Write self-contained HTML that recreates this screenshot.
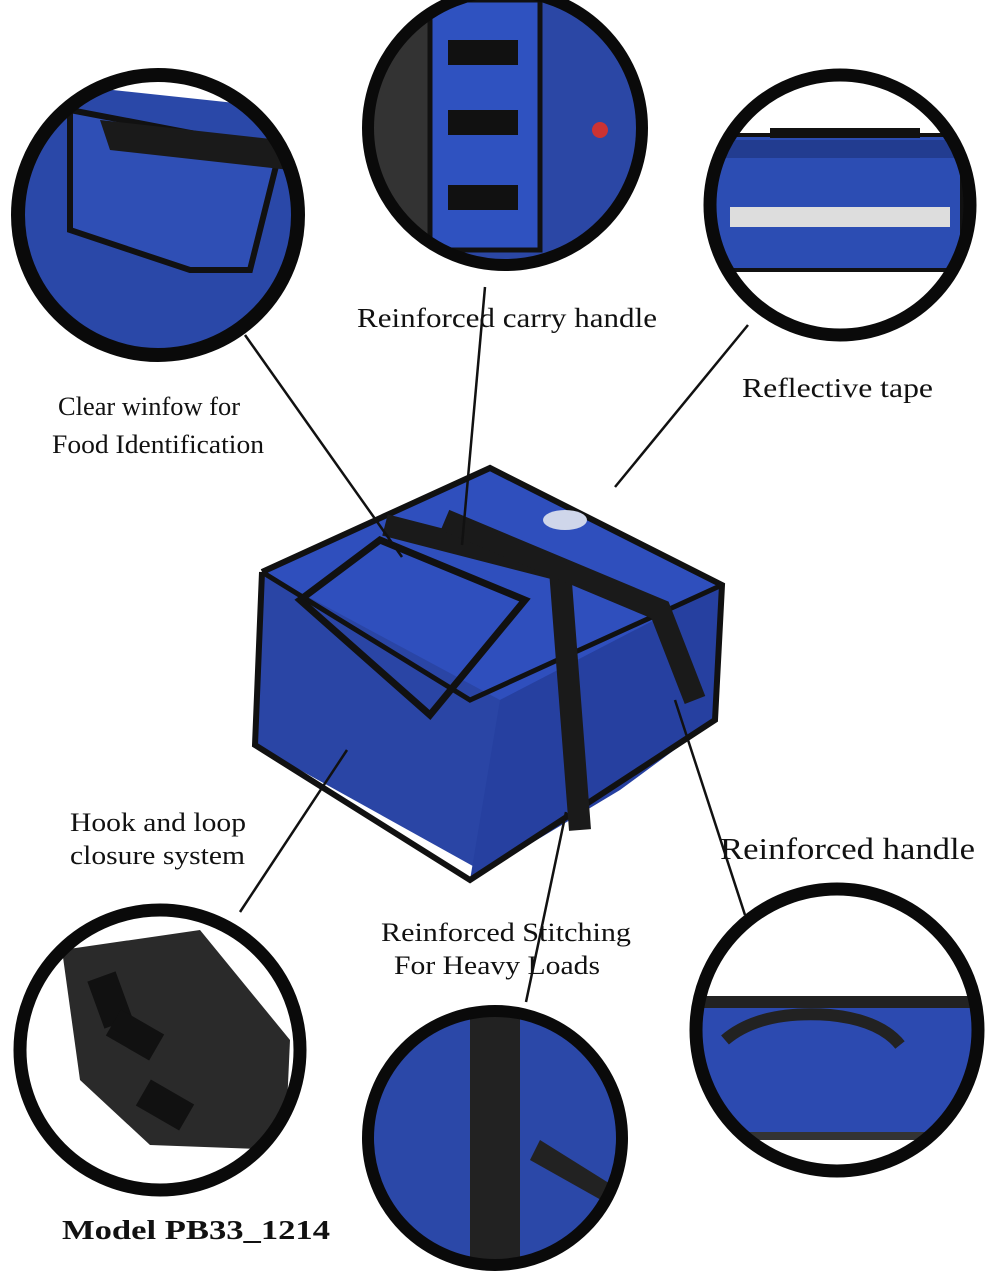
<!DOCTYPE html>
<html><head><meta charset="utf-8"><style>
html,body{margin:0;padding:0;background:#fff;}
svg{display:block}
text{font-family:"Liberation Serif",serif;fill:#111}
</style></head><body>
<svg width="995" height="1280" viewBox="0 0 995 1280" xmlns="http://www.w3.org/2000/svg">
<defs>
<clipPath id="c1"><circle cx="158" cy="215" r="135"/></clipPath>
<clipPath id="c2"><circle cx="505" cy="128" r="132"/></clipPath>
<clipPath id="c3"><circle cx="840" cy="205" r="124"/></clipPath>
<clipPath id="c4"><circle cx="160" cy="1050" r="135"/></clipPath>
<clipPath id="c5"><circle cx="495" cy="1138" r="122"/></clipPath>
<clipPath id="c6"><circle cx="837" cy="1030" r="136"/></clipPath>
</defs>
<g clip-path="url(#c1)"><rect x="0" y="60" width="320" height="320" fill="#fff"/>
<polygon points="20,80 300,110 300,380 20,380" fill="#2a48a8"/>
<polygon points="70,110 280,150 250,270 190,270 70,230" fill="#2f4fb5" stroke="#111" stroke-width="6"/>
<polygon points="100,120 280,140 290,170 110,150" fill="#1a1a1a"/></g>
<circle cx="158" cy="215" r="140" fill="none" stroke="#0a0a0a" stroke-width="14"/>
<g clip-path="url(#c2)"><rect x="360" y="-10" width="290" height="290" fill="#2b47a5"/>
<rect x="370" y="-10" width="60" height="280" fill="#333"/>
<rect x="430" y="0" width="110" height="250" fill="#2f52c0" stroke="#111" stroke-width="5"/>
<rect x="448" y="40" width="70" height="25" fill="#111"/><rect x="448" y="110" width="70" height="25" fill="#111"/><rect x="448" y="185" width="70" height="25" fill="#111"/>
<circle cx="600" cy="130" r="8" fill="#c33"/></g>
<circle cx="505" cy="128" r="137" fill="none" stroke="#0a0a0a" stroke-width="12"/>
<g clip-path="url(#c3)"><rect x="700" y="70" width="280" height="270" fill="#fff"/>
<rect x="712" y="135" width="250" height="135" fill="#2c4db3" stroke="#111" stroke-width="4"/>
<rect x="712" y="140" width="250" height="18" fill="#223c90"/>
<rect x="730" y="207" width="220" height="20" fill="#ddd"/>
<rect x="770" y="128" width="150" height="10" fill="#111"/></g>
<circle cx="840" cy="205" r="130" fill="none" stroke="#0a0a0a" stroke-width="13"/>
<g clip-path="url(#c4)"><rect x="15" y="880" width="300" height="330" fill="#fff"/>
<polygon points="62,950 200,930 290,1040 285,1150 150,1145 80,1080" fill="#2a2a2a"/>
<rect x="95" y="975" width="30" height="50" fill="#111" transform="rotate(-20 110 1000)"/>
<rect x="120" y="1010" width="30" height="50" fill="#111" transform="rotate(-60 135 1035)"/>
<rect x="150" y="1080" width="30" height="50" fill="#111" transform="rotate(-60 165 1105)"/></g>
<circle cx="160" cy="1050" r="140" fill="none" stroke="#0a0a0a" stroke-width="13"/>
<g clip-path="url(#c5)"><rect x="360" y="1000" width="270" height="280" fill="#2b48a8"/>
<rect x="470" y="1000" width="50" height="270" fill="#222"/>
<polygon points="540,1140 620,1190 610,1205 530,1160" fill="#222"/></g>
<circle cx="495" cy="1138" r="127" fill="none" stroke="#0a0a0a" stroke-width="12"/>
<g clip-path="url(#c6)"><rect x="690" y="880" width="300" height="300" fill="#fff"/>
<rect x="700" y="1000" width="285" height="140" fill="#2c4ab0"/>
<rect x="700" y="996" width="285" height="12" fill="#222"/>
<path d="M725 1040 Q760 1010 830 1015 Q880 1020 900 1045" fill="none" stroke="#222" stroke-width="12"/>
<rect x="700" y="1132" width="285" height="8" fill="#333"/></g>
<circle cx="837" cy="1030" r="141" fill="none" stroke="#0a0a0a" stroke-width="13"/>
<polygon points="262,572 490,468 722,585 645,700 480,870 255,745" fill="#2a45a5"/>
<polygon points="262,572 490,468 722,585 500,700" fill="#2f4fbd"/>
<polygon points="500,700 722,585 715,720 620,790 470,880" fill="#2640a0"/>
<polyline points="262,572 490,468 722,585 715,720 470,880 255,745 262,572" fill="none" stroke="#111" stroke-width="6"/>
<polyline points="262,572 470,700 722,585" fill="none" stroke="#111" stroke-width="5"/>
<polygon points="300,600 380,540 525,600 430,715" fill="none" stroke="#111" stroke-width="7"/>
<path d="M385 525 L560 570 L580 830" fill="none" stroke="#1a1a1a" stroke-width="22"/>
<path d="M445 520 L660 610 L695 700" fill="none" stroke="#1a1a1a" stroke-width="22"/>
<ellipse cx="565" cy="520" rx="22" ry="10" fill="#cfd6ea"/>
<g stroke="#111" stroke-width="2.5">
<line x1="245" y1="335" x2="402" y2="557"/>
<line x1="485" y1="287" x2="462" y2="545"/>
<line x1="748" y1="325" x2="615" y2="487"/>
<line x1="240" y1="912" x2="347" y2="750"/>
<line x1="566" y1="812" x2="526" y2="1002"/>
<line x1="675" y1="700" x2="745" y2="915"/>
</g>
<text x="357" y="327" font-size="27" textLength="300" lengthAdjust="spacingAndGlyphs">Reinforced carry handle</text>
<text x="58" y="415" font-size="26" textLength="182" lengthAdjust="spacingAndGlyphs">Clear winfow for</text>
<text x="52" y="453" font-size="26" textLength="212" lengthAdjust="spacingAndGlyphs">Food Identification</text>
<text x="742" y="397" font-size="27" textLength="191" lengthAdjust="spacingAndGlyphs">Reflective tape</text>
<text x="70" y="831" font-size="26" textLength="176" lengthAdjust="spacingAndGlyphs">Hook and loop</text>
<text x="70" y="864" font-size="26" textLength="175" lengthAdjust="spacingAndGlyphs">closure system</text>
<text x="381" y="941" font-size="26" textLength="250" lengthAdjust="spacingAndGlyphs">Reinforced Stitching</text>
<text x="394" y="974" font-size="26" textLength="206" lengthAdjust="spacingAndGlyphs">For Heavy Loads</text>
<text x="720" y="859" font-size="31" textLength="255" lengthAdjust="spacingAndGlyphs">Reinforced handle</text>
<text x="62" y="1239" font-size="27" font-weight="bold" textLength="268" lengthAdjust="spacingAndGlyphs">Model PB33_1214</text>
</svg>
</body></html>
